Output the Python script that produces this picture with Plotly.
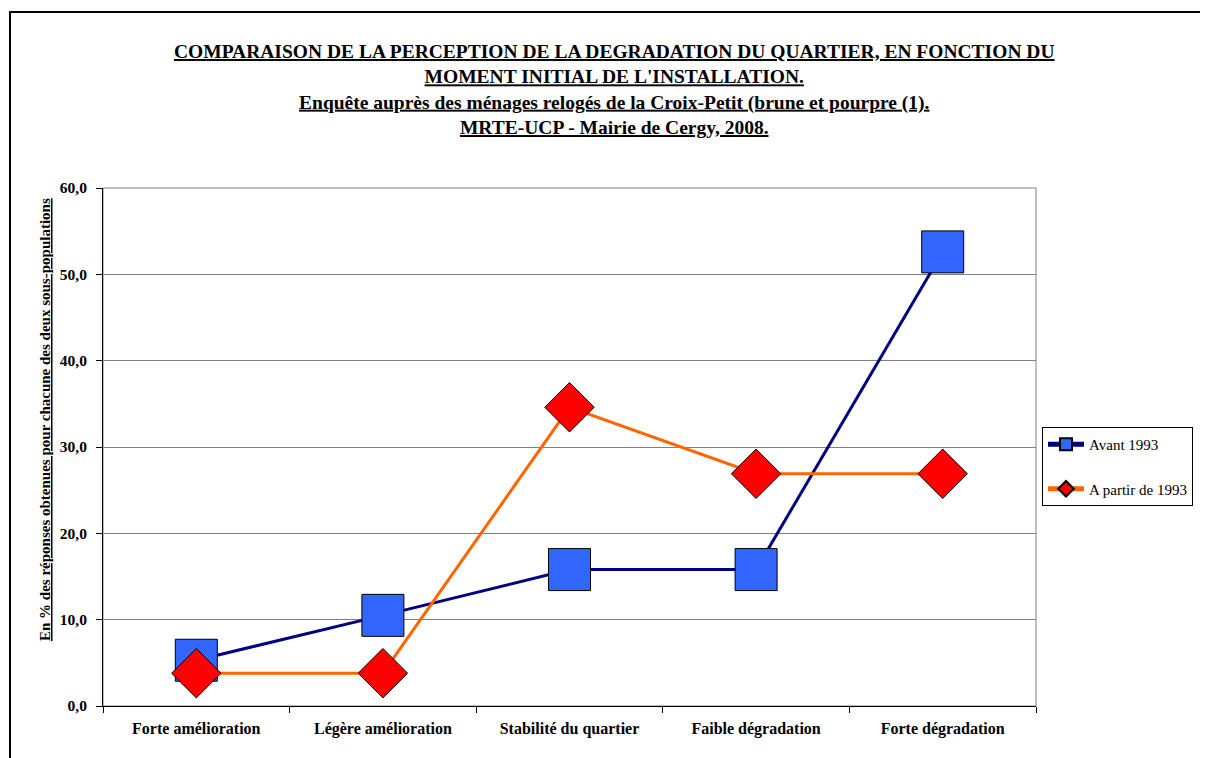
import plotly.graph_objects as go

categories = ["Forte amélioration", "Légère amélioration", "Stabilité du quartier",
              "Faible dégradation", "Forte dégradation"]
avant_1993 = [5.3, 10.5, 15.8, 15.8, 52.6]
a_partir_1993 = [3.8, 3.8, 34.6, 26.9, 26.9]
y_ticks = [0, 10, 20, 30, 40, 50, 60]

title_lines = [
    "COMPARAISON DE LA PERCEPTION DE LA DEGRADATION DU QUARTIER, EN FONCTION DU",
    "MOMENT INITIAL DE L'INSTALLATION.",
    "Enquête auprès des ménages relogés de la Croix-Petit (brune et pourpre (1).",
    "MRTE-UCP - Mairie de Cergy, 2008.",
]
y_title = "En % des réponses obtenues pour chacune des deux sous-populations"

SERIF = "Liberation Serif"

fig = go.Figure()
fig.add_trace(go.Scatter(
    x=categories, y=avant_1993, name="Avant 1993", mode="lines+markers",
    legendgroup="g1",
    line=dict(color="#000080", width=3),
    marker=dict(symbol="square", size=42, color="#3366FF",
                line=dict(color="#000000", width=1)),
))
fig.add_trace(go.Scatter(
    x=categories, y=a_partir_1993, name="A partir de 1993", mode="lines+markers",
    legendgroup="g2",
    line=dict(color="#FF6600", width=3),
    marker=dict(symbol="diamond", size=38, color="#FF0000",
                line=dict(color="#000000", width=1)),
))

# page is offset by the 8px body margin
OFF = 8
W, H = 1200, 750
L, T = 103 - OFF, 188 - OFF
R = W - (1036 - OFF)
B = H - (706 - OFF)
pw, ph = W - L - R, H - T - B

def px(xp):
    return (xp - OFF - L) / pw

def py(yp):
    return (H - B - (yp - OFF)) / ph

title_text = "<br>".join("<b><u>%s</u></b>" % t for t in title_lines)

fig.update_layout(
    width=W, height=H,
    margin=dict(l=L, r=R, t=T, b=B, autoexpand=False),
    paper_bgcolor="white", plot_bgcolor="white",
    font=dict(family=SERIF, color="black", size=13),
    showlegend=True,
    legend=dict(
        x=px(1042), y=py(427), xanchor="left", yanchor="top",
        bordercolor="black", borderwidth=1, bgcolor="white",
        font=dict(family=SERIF, size=15, color="black"),
        itemsizing="constant", itemwidth=36, tracegroupgap=22,
    ),
    annotations=[
        dict(text=title_text, x=px(614), y=py(39), xref="paper", yref="paper",
             xanchor="center", yanchor="top", showarrow=False,
             font=dict(family=SERIF, size=19.5, color="black")),
        dict(text="<b><u>%s</u></b>" % y_title, x=px(45), y=py(420),
             xref="paper", yref="paper", xanchor="center", yanchor="middle",
             textangle=-90, showarrow=False,
             font=dict(family=SERIF, size=15, color="black")),
    ],
    shapes=[
        dict(type="rect", xref="paper", yref="paper",
             x0=px(10), x1=px(1240), y0=py(790), y1=py(12),
             line=dict(color="black", width=2), fillcolor="rgba(0,0,0,0)",
             layer="below"),
        dict(type="rect", xref="paper", yref="paper",
             x0=0, x1=1, y0=0, y1=1,
             line=dict(color="#808080", width=1), fillcolor="rgba(0,0,0,0)",
             layer="below"),
    ],
)

fig.update_xaxes(
    type="category", categoryorder="array", categoryarray=categories,
    showgrid=False, showline=True, linecolor="black", linewidth=1,
    ticks="outside", tickson="boundaries", ticklen=6, tickcolor="black",
    ticklabelstandoff=8,
    tickfont=dict(family=SERIF, size=16, color="black", weight="bold"),
    range=[-0.5, 4.5],
)
fig.update_yaxes(
    range=[0, 60], tickvals=y_ticks, tickformat=".1f",
    showgrid=True, gridcolor="#808080", gridwidth=1,
    showline=True, linecolor="black", linewidth=1,
    ticks="outside", ticklen=6, tickcolor="black",
    ticklabelstandoff=6,
    tickfont=dict(family=SERIF, size=15.5, color="black", weight="bold"),
    zeroline=False,
)
fig.update_layout(separators=",.")

fig.write_html("out.html")
